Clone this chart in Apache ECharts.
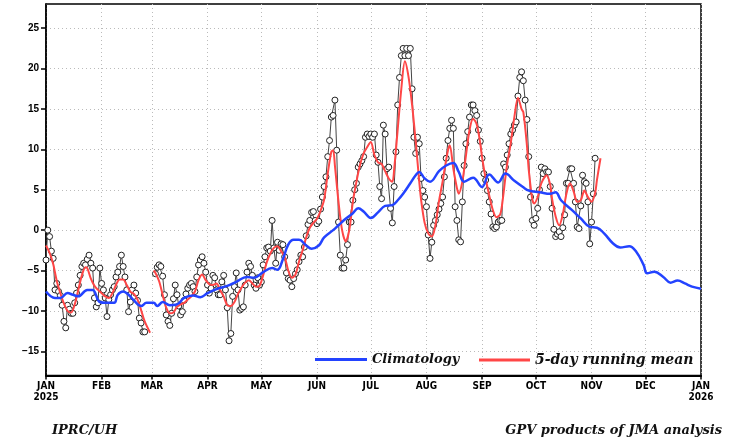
<!DOCTYPE html>
<html>
<head>
<meta charset="utf-8">
<title>Daily values 2025</title>
<script src="https://cdn.jsdelivr.net/npm/echarts@6/dist/echarts.min.js"></script>
<style>
    html, body { margin: 0; padding: 0; background: #fff; }
    #chart1 { width: 734px; height: 439px; }
</style>
</head>
<body>
<div id="chart1"></div>
<script>
// month starts, counted in days from 2025-01-01
var monthStarts = [0, 31, 59, 90, 120, 151, 181, 212, 243, 273, 304, 334, 365];
var monthLabels = ['JAN\n2025', 'FEB', 'MAR', 'APR', 'MAY', 'JUN', 'JUL', 'AUG', 'SEP', 'OCT', 'NOV', 'DEC', 'JAN\n2026'];
var yTicks = [-15, -10, -5, 0, 5, 10, 15, 20, 25];

// daily values from Jan 1 (null = missing)
var daily = [
    -3.7, 0.0, -0.8, -2.6, -3.5, -7.4, -6.6, -7.6, -8.1, -9.3,          // 0
    -11.3, -12.1, -9.3, -9.8, -10.3, -10.3, -9.0, -7.8, -6.8, -5.6,     // 10
    -4.5, -4.1, -4.3, -3.6, -3.1, -4.1, -4.7, -8.4, -9.5, -9.0,         // 20
    -4.7, -6.6, -7.4, -8.4, -10.7, -8.6, -8.0, -7.4, -7.0, -5.8,        // 30
    -5.2, -4.5, -3.1, -4.5, -5.8, -7.4, -10.1, -8.9, -7.4, -6.8,        // 40
    -7.8, -8.7, -10.9, -11.5, -12.6, -12.6, null, null, null, null,     // 50
    null, -5.4, -4.6, -4.3, -4.5, -5.7, -8.0, -10.5, -11.3, -11.8,      // 60
    -10.3, -8.5, -6.8, -8.0, -9.4, -10.5, -10.1, -8.7, -7.9, -7.2,      // 70
    -6.8, -6.6, -7.0, -7.6, -5.8, -4.3, -3.7, -3.3, -4.1, -5.2,         // 80
    -6.8, -7.8, -7.2, -5.6, -5.9, -7.4, -8.0, -8.0, -6.4, -5.6,         // 90
    -7.4, -9.6, -13.7, -12.8, -8.2, -7.0, -5.3, -7.4, -9.9, -9.7,       // 100
    -9.5, -6.8, -5.2, -4.1, -4.5, -5.6, -6.8, -7.2, -5.9, -6.8,         // 110
    -6.4, -4.3, -3.3, -2.2, -2.1, -2.6, 1.2, -2.2, -4.1, -1.5,          // 120
    -2.5, -1.7, -1.8, -3.3, -5.3, -6.0, -6.2, -7.0, -6.0, -5.4,         // 130
    -4.9, -3.9, -3.1, -3.3, -2.1, -0.7, 0.7, 1.2, 2.2, 2.3,             // 140
    1.2, 0.8, 1.1, 2.6, 4.1, 5.4, 6.6, 9.1, 11.1, 14.0,                 // 150
    14.2, 16.1, 9.9, 1.0, -3.1, -4.7, -4.7, -3.7, -1.8, 1.0,            // 160
    1.0, 3.7, 5.0, 5.8, 7.8, 8.2, 8.6, 9.1, 11.5, 11.9,                 // 170
    11.6, 11.9, 11.5, 11.9, 9.3, 8.4, 5.4, 3.9, 13.0, 11.9,             // 180
    7.6, 7.8, 2.7, 0.9, 5.4, 9.7, 15.5, 18.9, 21.6, 22.5,               // 190
    21.6, 22.5, 21.6, 22.5, 17.5, 11.5, 9.5, 11.5, 10.7, 6.4,           // 200
    4.9, 4.1, 2.9, -0.6, -3.5, -1.5, 0.6, 1.2, 1.9, 2.6,                // 210
    3.3, 4.1, 6.6, 8.9, 11.1, 12.6, 13.6, 12.6, 2.9, 1.2,               // 220
    -1.2, -1.45, 3.5, 8.0, 10.7, 12.2, 14.0, 15.5, 15.5, 14.8,          // 230
    14.2, 12.4, 11.0, 8.9, 7.0, 6.2, 4.9, 3.5, 2.0, 0.4,                // 240
    0.2, 0.4, 1.0, 1.2, 1.2, 8.2, 7.8, 9.3, 10.7, 11.9,                 // 250
    12.4, 13.0, 13.4, 16.6, 18.9, 19.6, 18.5, 16.1, 13.7, 9.1,          // 260
    4.1, 1.2, 0.6, 1.45, 2.7, 5.0, 7.8, 7.0, 7.6, 7.2,                  // 270
    7.2, 5.4, 2.7, 0.1, -0.8, -0.5, -0.2, -0.8, 0.3, 1.9,               // 280
    5.8, 5.8, 7.6, 7.6, 5.8, 3.5, 0.4, 0.2, 3.0, 6.8,                   // 290
    6.0, 5.8, 3.5, -1.7, 1.0, 4.5, 8.9                                  // 300
];

// 5-day running mean, [day, value]
var runMean = [
    [0, -1.9], [2, -2.8], [4, -4.2], [6, -6.3], [8, -7.8], [10, -9.1], [12, -10.0], [14, -10.2],
    [16, -9.2], [18, -7.4], [20, -5.6], [22, -4.6], [23, -4.7], [25, -6.0], [27, -6.9], [29, -7.4],
    [31, -7.8], [33, -8.2], [35, -8.4], [37, -7.8], [39, -6.8], [41, -6.1], [43, -6.1], [45, -6.8],
    [47, -7.6], [49, -7.9], [51, -8.6], [53, -9.9], [55, -11.3], [58, -12.7], [59, null],
    [60, -5.0], [61, -5.3], [63, -6.3], [65, -8.0], [67, -9.6], [69, -10.3], [71, -10.2], [73, -9.5],
    [75, -9.2], [77, -9.0], [79, -8.6], [81, -8.2], [83, -7.6], [85, -6.2], [87, -5.5], [89, -6.2],
    [91, -6.7], [93, -6.8], [95, -6.6], [97, -7.4], [99, -8.2], [101, -9.3], [103, -9.4], [105, -8.9],
    [107, -7.9], [109, -7.1], [111, -6.5], [113, -6.2], [115, -6.6], [117, -7.0], [119, -6.9],
    [121, -5.6], [123, -4.0], [125, -2.9], [127, -2.2], [129, -2.0], [131, -2.6], [133, -3.3],
    [135, -5.0], [137, -5.9], [139, -5.5], [141, -3.9], [143, -2.5], [145, -0.9], [147, 0.3],
    [149, 0.9], [151, 1.4], [153, 2.4], [155, 3.8], [157, 7.0], [159, 9.7], [160, 9.9], [161, 8.0],
    [163, 3.5], [165, 0.0], [167, -1.4], [169, 0.0], [171, 3.5], [173, 6.0], [175, 8.1], [177, 9.5],
    [179, 10.3], [181, 10.9], [183, 9.3], [185, 8.4], [187, 8.2], [189, 7.3], [191, 6.4], [193, 6.0],
    [194, 7.5], [196, 12.5], [198, 17.5], [200, 20.9], [202, 19.0], [204, 15.5], [206, 11.0],
    [208, 6.0], [209, 3.8], [211, 0.9], [213, -0.4], [215, -0.8], [217, 0.6], [219, 3.6], [221, 6.0],
    [222, 7.4], [224, 9.9], [225, 10.5], [227, 7.6], [229, 5.2], [230, 4.5], [232, 6.0], [234, 9.2],
    [236, 12.4], [238, 13.8], [240, 13.1], [242, 10.7], [243, 9.0], [245, 6.4], [247, 4.3], [249, 2.5],
    [251, 1.6], [253, 1.9], [254, 2.9], [256, 6.5], [257, 8.2], [259, 10.8], [261, 14.0], [263, 16.4],
    [265, 15.0], [266, 14.6], [268, 10.5], [269, 7.5], [271, 3.8], [272, 3.3], [274, 4.1], [276, 5.8],
    [279, 6.8], [281, 5.6], [282, 3.9], [284, 1.7], [286, 0.6], [288, 2.0], [290, 4.5], [292, 5.8],
    [294, 4.8], [296, 3.5], [298, 3.7], [300, 4.9], [302, 4.1], [304, 3.5], [306, 4.6], [307, 6.2],
    [309, 8.9]
];

// climatology, [day, value]
var clim = [
    [0, -7.6], [5, -8.4], [8, -8.4], [12, -7.8], [15, -8.0], [18, -8.2], [23, -7.4], [26, -7.4],
    [30, -8.9], [34, -9.0], [38, -9.0], [40, -8.0], [43, -7.6], [46, -8.0], [49, -8.7], [53, -9.4],
    [56, -9.0], [60, -9.0], [62, -9.4], [65, -8.9], [69, -9.3], [73, -9.2], [77, -8.4], [82, -8.1],
    [86, -8.3], [90, -7.8], [95, -7.3], [101, -6.9], [106, -6.4], [112, -5.8], [116, -5.9],
    [121, -5.2], [126, -4.7], [129, -4.9], [132, -3.6], [135, -1.8], [138, -1.2], [141, -1.2],
    [145, -1.9], [148, -2.3], [152, -1.9], [155, -0.9], [160, 0.0], [163, 0.6], [167, 1.4],
    [171, 2.1], [174, 2.7], [177, 2.3], [181, 1.5], [185, 2.2], [189, 3.0], [193, 3.1], [196, 3.7],
    [199, 4.5], [203, 5.8], [206, 6.8], [208, 7.2], [211, 6.4], [214, 6.0], [219, 7.3], [223, 8.0],
    [227, 8.3], [230, 7.2], [233, 6.0], [238, 6.5], [243, 5.35], [247, 6.9], [252, 5.9], [256, 7.0],
    [261, 6.1], [266, 5.3], [269, 4.9], [275, 4.7], [281, 4.5], [284, 4.7], [287, 3.7], [293, 2.5],
    [298, 1.45], [303, 0.4], [307, 0.3], [311, -0.4], [316, -1.65], [320, -2.15], [325, -2.0],
    [329, -2.7], [333, -4.3], [335, -5.35], [339, -5.15], [344, -5.8], [348, -6.5], [352, -6.25],
    [356, -6.6], [360, -7.0], [365, -7.25]
];

var days = [];
for (var i = 0; i <= 365; i++) {
    days.push(String(i));
}

function isMonthStart(index) {
    return monthStarts.indexOf(index) >= 0;
}

var serifFont = "'DejaVu Serif', 'Liberation Serif', serif";

var myChart1 = echarts.init(document.getElementById('chart1'), null, {renderer: 'canvas'});

myChart1.setOption({
    animation: false,
    backgroundColor: '#fff',
    grid: {
        left: 46, right: 33, top: 4, bottom: 63.5,
        show: true,
        borderColor: '#000',
        borderWidth: 1.5,
        outerBoundsMode: 'none'
    },
    title: [
        {
            text: 'IPRC/UH', left: 47, top: 419,
            textStyle: {fontFamily: serifFont, fontStyle: 'italic', fontWeight: 'bold', fontSize: 13, color: '#111'}
        },
        {
            text: 'GPV products of JMA analysis', right: 7, top: 419,
            textStyle: {fontFamily: serifFont, fontStyle: 'italic', fontWeight: 'bold', fontSize: 13, color: '#111'}
        }
    ],
    legend: [
        {
            data: ['Climatology'], left: 315, top: 353,
            icon: 'rect', itemWidth: 52, itemHeight: 3, padding: 0,
            textStyle: {fontFamily: serifFont, fontStyle: 'italic', fontWeight: 'bold', fontSize: 13, color: '#111'}
        },
        {
            data: ['5-day running mean'], left: 479, top: 353,
            icon: 'rect', itemWidth: 51, itemHeight: 3, padding: 0,
            textStyle: {fontFamily: serifFont, fontStyle: 'italic', fontWeight: 'bold', fontSize: 14, color: '#111'}
        }
    ],
    xAxis: {
        type: 'category',
        data: days,
        boundaryGap: false,
        axisLine: {onZero: false, lineStyle: {color: '#000', width: 2}},
        axisTick: {
            interval: function (index) { return isMonthStart(index); },
            length: 4,
            lineStyle: {color: '#000', width: 1.5}
        },
        axisLabel: {
            interval: function (index) { return isMonthStart(index); },
            formatter: function (value, index) {
                var k = monthStarts.indexOf(Number(value));
                return k >= 0 ? monthLabels[k] : '';
            },
            margin: 5,
            fontFamily: "'Liberation Sans Narrow', 'DejaVu Sans Condensed', 'Liberation Sans', sans-serif",
            fontWeight: 'bold',
            fontSize: 10,
            lineHeight: 11,
            color: '#000'
        },
        splitLine: {
            show: true,
            interval: function (index) { return isMonthStart(index); },
            lineStyle: {color: '#bbb', width: 1, type: [1, 3]}
        }
    },
    yAxis: {
        type: 'value',
        min: -18,
        max: 28,
        axisLine: {show: true, onZero: false, lineStyle: {color: '#000', width: 1.5}},
        axisTick: {show: true, customValues: yTicks, length: 5, lineStyle: {color: '#000', width: 1.5}},
        axisLabel: {
            customValues: yTicks,
            margin: 7,
            fontFamily: "'Liberation Sans', Arial, sans-serif",
            fontWeight: 'bold',
            fontSize: 10,
            color: '#000',
            formatter: function (v) { return v < 0 ? '\u2212' + (-v) : String(v); }
        },
        splitLine: {show: true, lineStyle: {color: '#bbb', width: 1, type: [1, 3]}}
    },
    series: [
        {
            name: 'daily',
            type: 'line',
            data: daily,
            z: 2,
            symbol: 'circle',
            symbolSize: 6,
            showAllSymbol: true,
            connectNulls: false,
            lineStyle: {color: '#444', width: 1},
            itemStyle: {color: '#fff', borderColor: '#222', borderWidth: 1},
            emphasis: {disabled: true}
        },
        {
            name: '5-day running mean',
            type: 'line',
            data: runMean,
            z: 3,
            symbol: 'none',
            smooth: 0.3,
            connectNulls: false,
            color: 'rgb(255,70,70)',
            lineStyle: {color: 'rgb(255,70,70)', width: 2},
            itemStyle: {color: 'rgb(255,70,70)'},
            emphasis: {disabled: true}
        },
        {
            name: 'Climatology',
            type: 'line',
            data: clim,
            z: 4,
            symbol: 'none',
            smooth: 0.4,
            color: '#2343ff',
            lineStyle: {color: '#2343ff', width: 2.5},
            itemStyle: {color: '#2343ff'},
            emphasis: {disabled: true}
        }
    ]
});
</script>
</body>
</html>
